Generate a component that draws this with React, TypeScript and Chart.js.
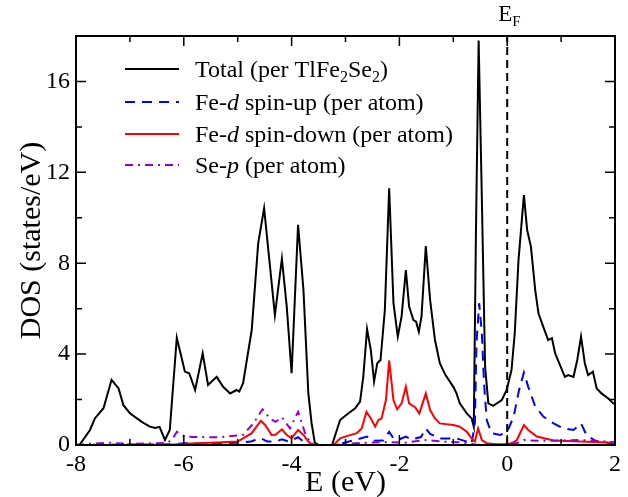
import React, { useEffect, useRef } from "react";
import { Chart, registerables } from "chart.js";

Chart.register(...registerables);

// ---------- data (energies in eV, DOS in states/eV) ----------
const totalE = [-8, -7.93, -7.74, -7.65, -7.49, -7.34, -7.21, -7.12, -7.0, -6.78, -6.63, -6.53, -6.45, -6.35, -6.26, -6.13, -5.98, -5.9, -5.79, -5.65, -5.55, -5.39, -5.27, -5.14, -5.02, -4.97, -4.9, -4.74, -4.62, -4.51, -4.4, -4.31, -4.18, -4.09, -4.0, -3.88, -3.78, -3.69, -3.63, -3.57, -3.5, -3.25, -3.1, -2.98, -2.82, -2.73, -2.67, -2.6, -2.53, -2.47, -2.41, -2.35, -2.27, -2.19, -2.11, -2.03, -1.96, -1.88, -1.82, -1.74, -1.69, -1.64, -1.59, -1.51, -1.43, -1.34, -1.25, -1.15, -1.0, -0.94, -0.88, -0.75, -0.66, -0.62, -0.58, -0.53, -0.47, -0.41, -0.35, -0.26, -0.1, -0.01, 0.08, 0.14, 0.21, 0.31, 0.37, 0.44, 0.52, 0.58, 0.67, 0.76, 0.83, 0.89, 0.98, 1.07, 1.13, 1.23, 1.3, 1.37, 1.44, 1.5, 1.59, 1.66, 1.75, 1.87, 1.97, 2.0];
const totalDOS = [0, 0.02, 0.66, 1.17, 1.62, 2.87, 2.49, 1.75, 1.4, 1.02, 0.81, 0.75, 0.8, 0.22, 0.66, 4.72, 3.23, 3.16, 2.42, 4.03, 2.64, 3.0, 2.56, 2.27, 2.42, 2.35, 2.72, 5.06, 8.87, 10.42, 7.84, 5.72, 8.2, 6.09, 3.16, 9.69, 6.82, 2.29, 0.97, 0.1, 0, 0, 1.1, 1.33, 1.62, 1.91, 3.0, 5.1, 4.18, 2.79, 3.6, 3.74, 5.94, 11.3, 6.24, 4.77, 5.65, 7.7, 6.09, 5.5, 5.43, 4.99, 5.65, 8.75, 6.38, 4.62, 3.6, 3.1, 2.56, 2.27, 1.83, 1.39, 1.17, 0.81, 9.35, 17.8, 10.8, 3.45, 1.83, 1.72, 1.98, 2.42, 3.3, 4.92, 8.15, 11.0, 9.46, 8.73, 6.82, 5.8, 5.2, 4.62, 4.7, 4.03, 3.52, 3.0, 3.08, 3.0, 3.74, 4.77, 3.6, 3.08, 3.23, 2.49, 2.27, 2.06, 1.83, 1.8];

const upE = [-8, -7, -6.2, -6.0, -5.5, -5.0, -4.75, -4.65, -4.57, -4.45, -4.3, -4.18, -4.05, -3.88, -3.78, -3.65, -3.2, -3.1, -2.86, -2.6, -2.5, -2.3, -2.19, -2.11, -2.0, -1.88, -1.78, -1.6, -1.51, -1.43, -1.25, -0.94, -0.75, -0.66, -0.6, -0.57, -0.52, -0.47, -0.43, -0.38, -0.29, -0.13, 0.0, 0.12, 0.22, 0.31, 0.39, 0.52, 0.67, 0.86, 1.04, 1.23, 1.37, 1.47, 1.66, 2.0];
const upDOS = [0, 0.02, 0.03, 0.08, 0.05, 0.1, 0.15, 0.25, 0.3, 0.15, 0.15, 0.25, 0.15, 0.34, 0.15, 0, 0, 0.05, 0.2, 0.37, 0.18, 0.2, 0.58, 0.29, 0.25, 0.37, 0.24, 0.35, 0.73, 0.49, 0.29, 0.29, 0.15, 0.05, 0.95, 4.48, 6.24, 4.92, 2.71, 1.1, 0.52, 0.44, 0.58, 1.25, 2.42, 3.19, 2.56, 1.69, 1.25, 0.95, 0.73, 0.66, 0.95, 0.44, 0.15, 0.05];

const downE = [-8, -6.3, -6.0, -5.5, -5.0, -4.9, -4.74, -4.65, -4.57, -4.49, -4.37, -4.3, -4.18, -4.09, -4.0, -3.88, -3.78, -3.69, -3.6, -3.22, -3.1, -2.98, -2.79, -2.7, -2.61, -2.53, -2.45, -2.39, -2.33, -2.25, -2.19, -2.11, -2.04, -1.96, -1.88, -1.82, -1.71, -1.63, -1.51, -1.43, -1.34, -1.25, -1.0, -0.88, -0.75, -0.66, -0.6, -0.54, -0.47, -0.38, -0.2, 0.0, 0.1, 0.18, 0.31, 0.39, 0.55, 0.86, 1.35, 2.0];
const downDOS = [0, 0, 0.05, 0.1, 0.15, 0.29, 0.52, 0.81, 1.07, 0.88, 0.44, 0.45, 0.69, 0.44, 0.29, 0.66, 0.44, 0.15, 0, 0, 0.29, 0.39, 0.52, 0.73, 1.46, 1.17, 0.81, 1.1, 1.17, 1.98, 3.72, 1.98, 1.57, 1.83, 2.56, 1.83, 1.66, 1.39, 2.27, 1.54, 1.17, 0.95, 0.88, 0.81, 0.58, 0.29, 0.15, 0.73, 0.22, 0.08, 0.03, 0.03, 0.1, 0.22, 0.88, 0.66, 0.37, 0.2, 0.15, 0.1];

const seE = [-8, -7.8, -7.4, -7.0, -6.5, -6.3, -6.2, -6.13, -5.98, -5.8, -5.33, -4.9, -4.71, -4.54, -4.4, -4.3, -4.18, -4.03, -3.88, -3.75, -3.65, -3.55, -3.2, -3.0, -2.6, -2.2, -1.9, -1.5, -1.2, -0.9, -0.6, -0.4, 0.0, 0.2, 0.31, 0.6, 1.0, 1.37, 1.7, 2.0];
const seDOS = [0, 0.05, 0.1, 0.05, 0.08, 0.1, 0.3, 0.58, 0.37, 0.35, 0.34, 0.44, 0.95, 1.57, 1.17, 1.02, 1.22, 0.73, 1.46, 0.52, 0.08, 0, 0, 0.05, 0.1, 0.13, 0.1, 0.22, 0.15, 0.12, 0.02, 0, 0.02, 0.1, 0.22, 0.18, 0.2, 0.22, 0.18, 0.12];

const fermiE = [0, 0];
const fermiDOS = [0, 18];

const xTicks = [-8, -6, -4, -2, 0, 2];
const xMinorTicks = [-7, -5, -3, -1, 1];
const yTicks = [0, 4, 8, 12, 16];
const yMinorTicks = [2, 6, 10, 14];

const seriesLabels = ["Total (per TlFe2Se2)", "Fe-d spin-up (per atom)", "Fe-d spin-down (per atom)", "Se-p (per atom)"];
type Seg = { t: string; it?: boolean; sub?: boolean };
const legendRich: Seg[][] = [
  [{ t: "Total (per TlFe" }, { t: "2", sub: true }, { t: "Se" }, { t: "2", sub: true }, { t: ")" }],
  [{ t: "Fe-" }, { t: "d", it: true }, { t: " spin-up (per atom)" }],
  [{ t: "Fe-" }, { t: "d", it: true }, { t: " spin-down (per atom)" }],
  [{ t: "Se-" }, { t: "p", it: true }, { t: " (per atom)" }],
];

const FONT = '"Liberation Serif", "Times New Roman", serif';
const BLACK = "#000000";
const BLUE = "#0000ff";
const RED = "#ff0000";
const PURPLE = "#9400d3";
const colors = [BLACK, BLUE, RED, PURPLE];
const dashes: number[][] = [[], [10, 7], [], [8, 5, 2, 5]];

const pts = (xs: number[], ys: number[]) => {
  const n = Math.min(xs.length, ys.length);
  const out: { x: number; y: number }[] = [];
  for (let i = 0; i < n; i++) out.push({ x: xs[i], y: ys[i] });
  return out;
};

function drawRich(ctx: CanvasRenderingContext2D, x: number, y: number, segs: Seg[], size: number) {
  let cx = x;
  for (const s of segs) {
    const fs = s.sub ? Math.round(size * 0.65) : size;
    ctx.font = `${s.it ? "italic " : ""}${fs}px ${FONT}`;
    const yy = s.sub ? y + size * 0.22 : y;
    ctx.fillText(s.t, cx, yy);
    cx += ctx.measureText(s.t).width;
  }
}

const decor = {
  id: "decor",
  afterDraw(chart: any) {
    const { ctx, chartArea: a } = chart;
    const xs = chart.scales.x;
    const ys = chart.scales.y;
    ctx.save();
    // frame
    ctx.strokeStyle = BLACK;
    ctx.lineWidth = 2;
    ctx.setLineDash([]);
    ctx.strokeRect(a.left, a.top, a.right - a.left, a.bottom - a.top);
    // ticks
    ctx.lineWidth = 1.5;
    const xt = (v: number, len: number) => {
      const p = xs.getPixelForValue(v);
      ctx.beginPath();
      ctx.moveTo(p, a.bottom);
      ctx.lineTo(p, a.bottom - len);
      ctx.moveTo(p, a.top);
      ctx.lineTo(p, a.top + len);
      ctx.stroke();
    };
    const yt = (v: number, len: number) => {
      const p = ys.getPixelForValue(v);
      ctx.beginPath();
      ctx.moveTo(a.left, p);
      ctx.lineTo(a.left + len, p);
      ctx.moveTo(a.right, p);
      ctx.lineTo(a.right - len, p);
      ctx.stroke();
    };
    xTicks.forEach((v) => xt(v, 10));
    xMinorTicks.forEach((v) => xt(v, 6));
    yTicks.forEach((v) => yt(v, 10));
    yMinorTicks.forEach((v) => yt(v, 6));

    // legend
    const lx0 = a.left + 49;
    const lx1 = a.left + 103;
    const tx = a.left + 119;
    const rowY = [a.top + 33, a.top + 66, a.top + 98, a.top + 129];
    ctx.fillStyle = BLACK;
    ctx.textBaseline = "alphabetic";
    ctx.textAlign = "left";
    legendRich.forEach((segs, i) => {
      const yy = rowY[i];
      ctx.strokeStyle = colors[i];
      ctx.lineWidth = 2;
      ctx.setLineDash(dashes[i]);
      ctx.beginPath();
      ctx.moveTo(lx0, yy);
      ctx.lineTo(lx1, yy);
      ctx.stroke();
      ctx.setLineDash([]);
      drawRich(ctx, tx, yy + 8, segs, 24);
    });

    // E_F label
    const fx = xs.getPixelForValue(0);
    drawRich(ctx, fx - 9, a.top - 15, [{ t: "E" }, { t: "F", sub: true }], 23);

    // axis titles
    ctx.font = `30px ${FONT}`;
    ctx.textAlign = "center";
    ctx.fillText("E (eV)", (a.left + a.right) / 2, 491);
    ctx.save();
    ctx.translate(40, (a.top + a.bottom) / 2);
    ctx.rotate(-Math.PI / 2);
    ctx.fillText("DOS (states/eV)", 0, 0);
    ctx.restore();
    ctx.restore();
  },
};

export default function App() {
  const ref = useRef<HTMLCanvasElement | null>(null);
  useEffect(() => {
    if (!ref.current) return;
    const series = [
      { xs: totalE, ys: totalDOS },
      { xs: upE, ys: upDOS },
      { xs: downE, ys: downDOS },
      { xs: seE, ys: seDOS },
    ];
    const datasets: any[] = series.map((s, i) => ({
      label: seriesLabels[i],
      data: pts(s.xs, s.ys),
      borderColor: colors[i],
      backgroundColor: colors[i],
      borderWidth: 2,
      borderDash: dashes[i],
      pointRadius: 0,
      showLine: true,
      tension: 0,
      order: 4 - i,
    }));
    datasets.push({
      label: "EF",
      data: pts(fermiE, fermiDOS),
      borderColor: BLACK,
      borderWidth: 2,
      borderDash: [8, 5],
      pointRadius: 0,
      showLine: true,
      order: 0,
    });
    const tickFont = { family: FONT, size: 24 };
    const chart = new Chart(ref.current, {
      type: "scatter",
      data: { datasets },
      options: {
        responsive: false,
        animation: false,
        layout: { padding: { top: 36, right: 13, left: 0, bottom: 0 } },
        plugins: { legend: { display: false }, tooltip: { enabled: false } },
        scales: {
          x: {
            type: "linear",
            min: -8,
            max: 2,
            afterFit: (s: any) => {
              s.height = 52;
            },
            afterBuildTicks: (s: any) => {
              s.ticks = xTicks.map((v) => ({ value: v }));
            },
            grid: { display: false, drawTicks: false },
            border: { display: false },
            ticks: { font: tickFont, color: BLACK, padding: 5, maxRotation: 0, autoSkip: false, callback: (v: any) => String(v) },
          },
          y: {
            type: "linear",
            min: 0,
            max: 18,
            afterFit: (s: any) => {
              s.width = 76;
            },
            afterBuildTicks: (s: any) => {
              s.ticks = yTicks.map((v) => ({ value: v }));
            },
            grid: { display: false, drawTicks: false },
            border: { display: false },
            ticks: { font: tickFont, color: BLACK, padding: 6, autoSkip: false, callback: (v: any) => String(v) },
          },
        },
      } as any,
      plugins: [decor],
    });
    return () => chart.destroy();
  }, []);
  return (
    <div style={{ position: "fixed", left: 0, top: 0, width: 628, height: 497, background: "#fff" }}>
      <canvas ref={ref} width={628} height={497} style={{ display: "block" }} />
    </div>
  );
}
